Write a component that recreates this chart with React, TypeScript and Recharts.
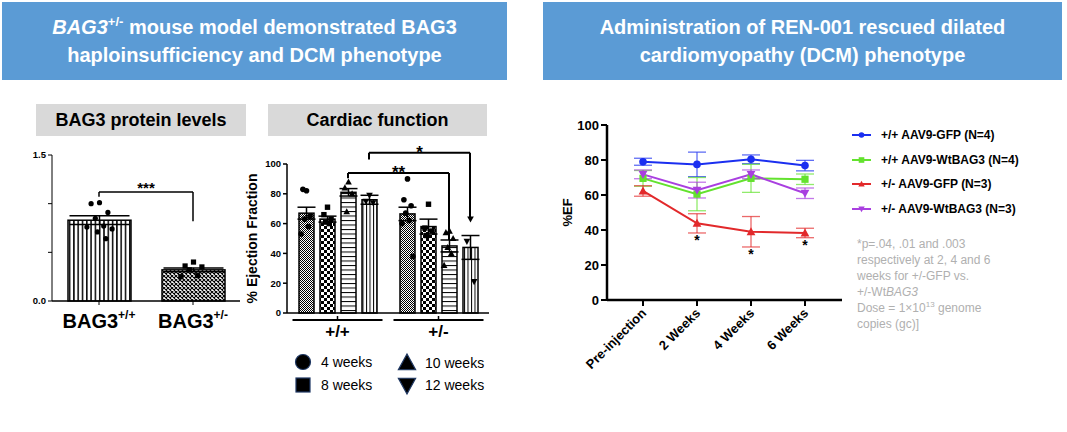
import React from 'react';
import {
  BarChart, Bar, Cell, LineChart, Line, XAxis, YAxis, ErrorBar,
  ReferenceLine, Legend, LabelList,
} from 'recharts';

const FONT = '"Liberation Sans", Arial, Helvetica, sans-serif';

// BAG3 protein levels (relative units)
const proteinGroups = ['+/+', '+/-'];
const proteinMean = [0.83, 0.32];
const proteinSem = [0.045, 0.02];
const proteinDots = [
  [1.01, 1.0, 0.91, 0.85, 0.77, 0.76, 0.74, 0.71, 0.64],
  [0.4, 0.36, 0.35, 0.32, 0.26, 0.25],
];
const proteinSig = { y: 1.12, left: 1.07, right: 0.82, text: '***' };

// Cardiac function, % ejection fraction
const genotypes = ['+/+', '+/-'];
const weekNames = ['4 weeks', '8 weeks', '10 weeks', '12 weeks'];
const ef4w = [67, 66.5];
const ef4wSem = [4, 4.5];
const ef4wDots = [[82, 83, 65, 63, 58, 53], [90, 76, 72, 67, 62, 60, 38]];
const ef8w = [63, 58];
const ef8wSem = [2, 5];
const ef8wDots = [[71, 66, 63, 61, 60], [73, 57, 55, 52]];
const ef10w = [81, 45];
const ef10wSem = [2.5, 4];
const ef10wDots = [[88, 84, 80, 68], [55, 54, 50, 44, 40, 32]];
const ef12w = [76, 44];
const ef12wSem = [3, 8];
const ef12wDots = [[79, 75, 74], [63, 48, 21]];
const efSig = [
  { week: 2, y: 94, left: 90.5, right: 49, text: '**' },
  { week: 3, y: 107.5, left: 103, right: 64, text: '*' },
];

// REN-001 rescue, %EF over time
const timepoints = ['Pre-injection', '2 Weeks', '4 Weeks', '6 Weeks'];
const wtGfp = [79, 77.5, 80.4, 76.8];
const wtGfpErr = [2, 7, 2.5, 3];
const wtBag3 = [69.5, 60.5, 69.5, 69];
const wtBag3Err = [4.5, 9.5, 8, 3];
const hetGfp = [62.3, 43.8, 39, 38.3];
const hetGfpErr = [3, 5.5, 8.7, 2.7];
const hetBag3 = [71.8, 62.8, 71.8, 61];
const hetBag3Err = [2.5, 4.5, 2.5, 3];
const hetSig = ['', '*', '*', '*'];

const proteinRows = proteinGroups.map((g, i) => ({
  group: g, mean: proteinMean[i], sem: proteinSem[i], dots: proteinDots[i],
}));

const cardiacRows = genotypes.map((g, i) => ({
  group: g,
  w4: ef4w[i], w4Sem: ef4wSem[i], w4Dots: ef4wDots[i],
  w8: ef8w[i], w8Sem: ef8wSem[i], w8Dots: ef8wDots[i],
  w10: ef10w[i], w10Sem: ef10wSem[i], w10Dots: ef10wDots[i],
  w12: ef12w[i], w12Sem: ef12wSem[i], w12Dots: ef12wDots[i],
}));

const rescueRows = timepoints.map((t, i) => ({
  t,
  wtGfp: wtGfp[i], wtGfpErr: wtGfpErr[i],
  wtBag3: wtBag3[i], wtBag3Err: wtBag3Err[i],
  hetGfp: hetGfp[i], hetGfpErr: hetGfpErr[i],
  hetBag3: hetBag3[i], hetBag3Err: hetBag3Err[i],
  sig: hetSig[i],
}));

type Kind = 'circle' | 'square' | 'up' | 'down';

const Marker = ({ kind, cx, cy, r, fill, stroke = 'none', sw = 0 }: any) => {
  if (kind === 'circle') return <circle cx={cx} cy={cy} r={r} fill={fill} stroke={stroke} strokeWidth={sw} />;
  if (kind === 'square') {
    return <rect x={cx - r} y={cy - r} width={r * 2} height={r * 2} fill={fill} stroke={stroke} strokeWidth={sw} />;
  }
  const h = r * 1.2;
  const w = r * 1.15;
  const pts = kind === 'up'
    ? `${cx},${cy - h} ${cx + w},${cy + h * 0.75} ${cx - w},${cy + h * 0.75}`
    : `${cx},${cy + h} ${cx + w},${cy - h * 0.75} ${cx - w},${cy - h * 0.75}`;
  return <polygon points={pts} fill={fill} stroke={stroke} strokeWidth={sw} />;
};

// spread of the individual animals across a bar
const JITTER = [0, -0.6, 0.6, -0.3, 0.3, -0.9, 0.9, -0.15, 0.45];

// bar + its individual points, placed with the bar's own y scale
const dotBar = (meanKey: string, dotsKey: string, kind: Kind, r: number, spread: number) => (p: any) => {
  const { x, y, width, height, payload, fill } = p;
  const unit = height / payload[meanKey];
  const base = y + height;
  return (
    <g>
      <rect x={x} y={y} width={width} height={height} fill={fill} stroke="#000" strokeWidth={1.5} />
      {payload[dotsKey].map((v: number, i: number) => (
        <Marker key={i} kind={kind} cx={x + width / 2 + JITTER[i % JITTER.length] * spread}
          cy={base - v * unit} r={r} fill="#000" />
      ))}
    </g>
  );
};

const ProteinTick = (p: any) => (
  <text x={p.x} y={p.y + 21} textAnchor="middle" fontFamily={FONT} fontWeight={700} fontSize={20} fill="#000">
    BAG3<tspan dy={-9} fontSize={12}>{p.payload.value}</tspan>
  </text>
);

const ProteinChart = () => (
  <BarChart width={250} height={200} data={proteinRows} margin={{ top: 15, right: 10, left: 12, bottom: 0 }}>
    <defs>
      <pattern id="pVert" width={4.3} height={8} patternUnits="userSpaceOnUse">
        <rect width={4.3} height={8} fill="#fff" />
        <line x1={0.8} y1={0} x2={0.8} y2={8} stroke="#000" strokeWidth={1.5} />
      </pattern>
      <pattern id="pCross" width={4} height={4} patternUnits="userSpaceOnUse">
        <rect width={4} height={4} fill="#fff" />
        <path d="M0,0 L4,4 M0,4 L4,0" stroke="#000" strokeWidth={1.1} />
      </pattern>
    </defs>
    <XAxis dataKey="group" height={39} interval={0} tick={<ProteinTick />} tickSize={4}
      axisLine={{ stroke: '#000', strokeWidth: 1.5 }} tickLine={{ stroke: '#000' }} />
    <YAxis domain={[0, 1.5]} ticks={[0, 0.5, 1, 1.5]} width={40} interval={0} tickSize={4}
      tickFormatter={(v: number) => (v === 0 ? '0.0' : v === 1.5 ? '1.5' : '')}
      tick={{ fontSize: 9.5, fontWeight: 700, fill: '#000', fontFamily: FONT }}
      axisLine={{ stroke: '#000' }} tickLine={{ stroke: '#000' }} />
    <Bar dataKey="mean" barSize={63} isAnimationActive={false}
      shape={(p: any) => dotBar('mean', 'dots', p.index === 0 ? 'circle' : 'square', 2.6, 14)(p)}>
      <Cell fill="url(#pVert)" />
      <Cell fill="url(#pCross)" />
      <ErrorBar dataKey="sem" width={30} stroke="#000" strokeWidth={1.5} />
    </Bar>
    <ReferenceLine ifOverflow="visible" stroke="#000" strokeWidth={1.5}
      segment={[{ x: proteinGroups[0], y: proteinSig.y }, { x: proteinGroups[1], y: proteinSig.y }]}
      label={(lp: any) => {
        const vb = lp.viewBox ?? lp;
        return (
          <text x={vb.x + vb.width / 2} y={vb.y + 1} textAnchor="middle" fontFamily={FONT}
            fontWeight={700} fontSize={15} fill="#000">{proteinSig.text}</text>
        );
      }} />
    <ReferenceLine ifOverflow="visible" stroke="#000" strokeWidth={1.5}
      segment={[{ x: proteinGroups[0], y: proteinSig.y }, { x: proteinGroups[0], y: proteinSig.left }]} />
    <ReferenceLine ifOverflow="visible" stroke="#000" strokeWidth={1.5}
      segment={[{ x: proteinGroups[1], y: proteinSig.y }, { x: proteinGroups[1], y: proteinSig.right }]} />
  </BarChart>
);

const CARDIAC_BAR = 15;
const CARDIAC_GAP = 6;
const barShift = (k: number) => (k - (weekNames.length - 1) / 2) * (CARDIAC_BAR + CARDIAC_GAP);

const weekSeries: { key: string; fill: string; kind: Kind; r: number }[] = [
  { key: 'w4', fill: 'url(#p4w)', kind: 'circle', r: 2.8 },
  { key: 'w8', fill: 'url(#p8w)', kind: 'square', r: 2.7 },
  { key: 'w10', fill: 'url(#p10w)', kind: 'up', r: 2.9 },
  { key: 'w12', fill: 'url(#p12w)', kind: 'down', r: 2.9 },
];

const GenotypeTick = (p: any) => (
  <g>
    <line x1={p.x - 45} x2={p.x + 45} y1={p.y + 7} y2={p.y + 7} stroke="#000" strokeWidth={2} />
    <line x1={p.x} x2={p.x} y1={p.y + 3} y2={p.y + 7} stroke="#000" strokeWidth={1.5} />
    <text x={p.x} y={p.y + 24} textAnchor="middle" fontFamily={FONT} fontWeight={700} fontSize={17} fill="#000">
      {p.payload.value}
    </text>
  </g>
);

// legend laid out in two columns: 4/8 weeks left, 10/12 weeks right
const WeekLegend = () => {
  const cells: { cx: number; cy: number; r: number }[] = [
    { cx: 9, cy: 10, r: 7.5 },
    { cx: 9, cy: 33, r: 7 },
    { cx: 113, cy: 11, r: 7.5 },
    { cx: 113, cy: 33, r: 7.5 },
  ];
  return (
    <svg width={200} height={48}>
      {cells.map((c, i) => (
        <g key={i}>
          <Marker kind={weekSeries[i].kind} cx={c.cx} cy={c.cy} r={c.r} fill="#000" stroke="#1f3864" sw={1.2} />
          <text x={c.cx + 18} y={c.cy + 5} fontFamily={FONT} fontSize={14} fill="#000">
            {weekNames[i]}
          </text>
        </g>
      ))}
    </svg>
  );
};

const CardiacChart = () => (
  <BarChart width={260} height={280} data={cardiacRows} barSize={CARDIAC_BAR} barGap={CARDIAC_GAP}
    margin={{ top: 34, right: 11, left: 17, bottom: 67 }}>
    <defs>
      <pattern id="p4w" width={2} height={2} patternUnits="userSpaceOnUse">
        <rect width={2} height={2} fill="#fff" />
        <rect width={1} height={1} fill="#000" />
        <rect x={1} y={1} width={1} height={1} fill="#000" />
      </pattern>
      <pattern id="p8w" width={6} height={6} patternUnits="userSpaceOnUse">
        <rect width={6} height={6} fill="#fff" />
        <rect width={3} height={3} fill="#000" />
        <rect x={3} y={3} width={3} height={3} fill="#000" />
      </pattern>
      <pattern id="p10w" width={4} height={4.5} patternUnits="userSpaceOnUse">
        <rect width={4} height={4.5} fill="#fff" />
        <line x1={0} y1={0.5} x2={4} y2={0.5} stroke="#000" strokeWidth={1} />
      </pattern>
      <pattern id="p12w" width={3.5} height={4} patternUnits="userSpaceOnUse">
        <rect width={3.5} height={4} fill="#fff" />
        <line x1={0.5} y1={0} x2={0.5} y2={4} stroke="#000" strokeWidth={1} />
      </pattern>
    </defs>
    <XAxis dataKey="group" height={30} interval={0} tick={<GenotypeTick />} tickLine={false}
      tickSize={0} tickMargin={0} axisLine={{ stroke: '#000', strokeWidth: 1.5 }} />
    <YAxis domain={[0, 100]} ticks={[0, 20, 40, 60, 80, 100]} width={30} interval={0} tickSize={4}
      tick={{ fontSize: 9.5, fontWeight: 700, fill: '#000', fontFamily: FONT }}
      axisLine={{ stroke: '#000', strokeWidth: 1.5 }} tickLine={{ stroke: '#000', strokeWidth: 1.5 }}
      label={(lp: any) => {
        const vb = lp.viewBox ?? lp;
        const x = vb.x;
        const y = vb.y + vb.height / 2;
        return (
          <text x={x} y={y} transform={`rotate(-90 ${x} ${y})`} textAnchor="middle" fontFamily={FONT}
            fontWeight={700} fontSize={14} fill="#000">% Ejection Fraction</text>
        );
      }} />
    <Legend layout="vertical" align="center" verticalAlign="middle" content={() => <WeekLegend />}
      wrapperStyle={{ left: 54, top: 222, width: 200, height: 48 }} />
    {weekSeries.map((s, k) => (
      <Bar key={s.key} dataKey={s.key} name={weekNames[k]} fill={s.fill} isAnimationActive={false}
        shape={dotBar(s.key, s.key + 'Dots', s.kind, s.r, 6)}>
        <ErrorBar dataKey={s.key + 'Sem'} width={9} stroke="#000" strokeWidth={1.5} />
      </Bar>
    ))}
    {efSig.flatMap((s, i) => {
      const dx = barShift(s.week);
      const shape = (p: any) => (
        <line x1={p.x1 + dx} y1={p.y1} x2={p.x2 + dx} y2={p.y2} stroke="#000" strokeWidth={2} />
      );
      return [
        <ReferenceLine key={`h${i}`} ifOverflow="visible" shape={shape}
          segment={[{ x: genotypes[0], y: s.y }, { x: genotypes[1], y: s.y }]}
          label={(lp: any) => {
            const vb = lp.viewBox ?? lp;
            return (
              <text x={vb.x + vb.width / 2 + dx} y={vb.y + 5} textAnchor="middle" fontFamily={FONT}
                fontWeight={700} fontSize={17} fill="#000">{s.text}</text>
            );
          }} />,
        <ReferenceLine key={`l${i}`} ifOverflow="visible" shape={shape}
          segment={[{ x: genotypes[0], y: s.y }, { x: genotypes[0], y: s.left }]} />,
        <ReferenceLine key={`r${i}`} ifOverflow="visible" shape={shape}
          segment={[{ x: genotypes[1], y: s.y }, { x: genotypes[1], y: s.right }]} />,
      ];
    })}
  </BarChart>
);

const rescueSeries: { key: string; name: string; color: string; kind: Kind; r: number }[] = [
  { key: 'wtGfp', name: '+/+ AAV9-GFP (N=4)', color: '#1b2ff0', kind: 'circle', r: 3.8 },
  { key: 'wtBag3', name: '+/+ AAV9-WtBAG3 (N=4)', color: '#63e22e', kind: 'square', r: 3.6 },
  { key: 'hetGfp', name: '+/- AAV9-GFP (N=3)', color: '#e2292b', kind: 'up', r: 3.8 },
  { key: 'hetBag3', name: '+/- AAV9-WtBAG3 (N=3)', color: '#a93fe0', kind: 'down', r: 3.8 },
];

const TimeTick = (p: any) => {
  const x = p.x + 4;
  const y = p.y + 6;
  return (
    <text x={x} y={y} transform={`rotate(-45 ${x} ${y})`} textAnchor="end" fontFamily={FONT}
      fontWeight={700} fontSize={13} fill="#000">{p.payload.value}</text>
  );
};

const RescueLegend = () => (
  <div style={{ fontFamily: FONT }}>
    {rescueSeries.map((s) => (
      <div key={s.key} style={{ display: 'flex', alignItems: 'center', height: 24.5 }}>
        <svg width={19} height={10} style={{ marginRight: 10 }}>
          <line x1={0} x2={19} y1={5} y2={5} stroke={s.color} strokeWidth={2} />
          <Marker kind={s.kind} cx={9.5} cy={5} r={2.8} fill={s.color} />
        </svg>
        <span style={{ fontSize: 12, fontWeight: 700, color: '#000', whiteSpace: 'nowrap' }}>{s.name}</span>
      </div>
    ))}
  </div>
);

const RescueChart = () => (
  <LineChart width={527} height={265} data={rescueRows} margin={{ top: 15, right: 225, left: 22, bottom: 0 }}>
    <XAxis dataKey="t" scale="point" padding={{ left: 36, right: 37 }} height={75} interval={0}
      tick={<TimeTick />} tickSize={6} axisLine={{ stroke: '#000', strokeWidth: 2.5 }}
      tickLine={{ stroke: '#000', strokeWidth: 2 }} />
    <YAxis domain={[0, 100]} ticks={[0, 20, 40, 60, 80, 100]} width={45} interval={0} tickSize={6}
      tick={{ fontSize: 13, fontWeight: 700, fill: '#000', fontFamily: FONT }}
      axisLine={{ stroke: '#000', strokeWidth: 2.5 }} tickLine={{ stroke: '#000', strokeWidth: 2 }}
      label={(lp: any) => {
        const vb = lp.viewBox ?? lp;
        const x = vb.x + 10;
        const y = vb.y + vb.height / 2;
        return (
          <text x={x} y={y} transform={`rotate(-90 ${x} ${y})`} textAnchor="middle" fontFamily={FONT}
            fontWeight={700} fontSize={13} fill="#000">%EF</text>
        );
      }} />
    <Legend layout="vertical" align="center" verticalAlign="middle" content={() => <RescueLegend />}
      wrapperStyle={{ left: 312, top: 13, width: 212 }} />
    {rescueSeries.map((s) => (
      <Line key={s.key} dataKey={s.key} name={s.name} stroke={s.color} strokeWidth={2}
        isAnimationActive={false} activeDot={false}
        dot={(p: any) => <Marker key={`${s.key}${p.index}`} kind={s.kind} cx={p.cx} cy={p.cy} r={s.r} fill={s.color} />}>
        <ErrorBar dataKey={s.key + 'Err'} width={9} stroke={s.color} strokeOpacity={0.7} strokeWidth={1.3} />
      </Line>
    ))}
    <Line dataKey={(d: any) => d.hetGfp - d.hetGfpErr} stroke="none" dot={false} activeDot={false}
      legendType="none" isAnimationActive={false}>
      <LabelList dataKey="sig" content={(lp: any) => (lp.value ? (
        <text x={lp.x} y={lp.y + 12.5} textAnchor="middle" fontFamily={FONT} fontWeight={700}
          fontSize={14} fill="#000">{lp.value}</text>
      ) : null)} />
    </Line>
  </LineChart>
);

const header = (left: number, width: number): React.CSSProperties => ({
  position: 'absolute', left, top: 2, width, height: 78, background: '#5b9bd5', color: '#fff',
  fontWeight: 700, fontSize: 20, lineHeight: '28px', textAlign: 'center',
  display: 'flex', flexDirection: 'column', justifyContent: 'center',
});

const panelTitle = (left: number, width: number): React.CSSProperties => ({
  position: 'absolute', left, top: 104, width, height: 32, background: '#d9d9d9', color: '#000',
  fontWeight: 700, fontSize: 18, lineHeight: '32px', textAlign: 'center',
});

export default function App() {
  return (
    <div style={{ position: 'absolute', left: 0, top: 0, width: 1067, height: 432, background: '#fff',
      fontFamily: FONT, overflow: 'hidden' }}>
      <div style={header(2, 505)}>
        <div><i>BAG3</i><sup style={{ fontSize: 13, lineHeight: 0 }}>+/-</sup> mouse model demonstrated BAG3</div>
        <div>haploinsufficiency and DCM phenotype</div>
      </div>
      <div style={header(543, 519)}>
        <div>Administration of REN-001 rescued dilated</div>
        <div>cardiomyopathy (DCM) phenotype</div>
      </div>
      <div style={panelTitle(36, 210)}>BAG3 protein levels</div>
      <div style={panelTitle(268, 219)}>Cardiac function</div>
      <div style={{ position: 'absolute', left: 0, top: 140 }}><ProteinChart /></div>
      <div style={{ position: 'absolute', left: 240, top: 130 }}><CardiacChart /></div>
      <div style={{ position: 'absolute', left: 540, top: 110 }}><RescueChart /></div>
      <div style={{ position: 'absolute', left: 857, top: 236, fontSize: 12, lineHeight: '16px', color: '#b0b0b0' }}>
        <div>*p=.04, .01 and .003</div>
        <div>respectively at 2, 4 and 6</div>
        <div>weeks for +/-GFP vs.</div>
        <div>+/-Wt<i>BAG3</i></div>
        <div>Dose = 1×10<sup style={{ fontSize: 8, lineHeight: 0 }}>13</sup> genome</div>
        <div>copies (gc)]</div>
      </div>
    </div>
  );
}
